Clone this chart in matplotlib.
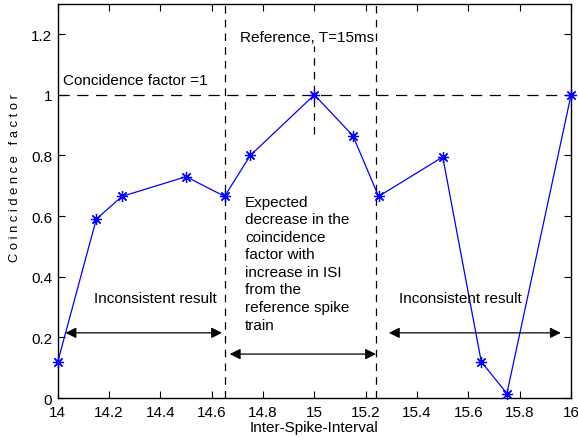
import numpy as np
import matplotlib.pyplot as plt

plt.rcParams['font.family'] = ['Liberation Sans', 'DejaVu Sans']

isi = [14.0, 14.15, 14.25, 14.5, 14.65, 14.75, 15.0, 15.15, 15.25, 15.5, 15.65, 15.75, 16.0]
coinc = [0.12, 0.59, 0.665, 0.73, 0.665, 0.80, 1.0, 0.865, 0.665, 0.795, 0.12, 0.015, 1.0]

x_ticks = [14, 14.2, 14.4, 14.6, 14.8, 15, 15.2, 15.4, 15.6, 15.8, 16]
x_labels = ['14', '14.2', '14.4', '14.6', '14.8', '15', '15.2', '15.4', '15.6', '15.8', '16']
y_ticks = [0, 0.2, 0.4, 0.6, 0.8, 1, 1.2]
y_labels = ['0', '0.2', '0.4', '0.6', '0.8', '1', '1.2']

fig = plt.figure(figsize=(5.78, 4.39), dpi=100)
ax = fig.add_axes([0.100, 0.091, 0.888, 0.898])

# matlab style '*' marker (8 arms)
ax.plot(isi, coinc, color='blue', lw=0.9, marker=(8, 2, 0), markersize=8,
        markeredgewidth=0.9, clip_on=False, zorder=3)

dash = (0, (6, 5))
ax.axhline(1, color='black', lw=0.9, linestyle=(0, (9, 6)))
ax.axvline(14.65, color='black', lw=0.9, linestyle=dash)
ax.axvline(15.24, color='black', lw=0.9, linestyle=dash)
ax.plot([15, 15], [0.87, 1.16], color='black', lw=0.9, linestyle=dash)

arrow = dict(arrowstyle='<|-|>', color='black', lw=0.9, mutation_scale=16, shrinkA=0, shrinkB=0)
ax.annotate('', xy=(14.03, 0.215), xytext=(14.64, 0.215), arrowprops=arrow)
ax.annotate('', xy=(14.67, 0.145), xytext=(15.24, 0.145), arrowprops=arrow)
ax.annotate('', xy=(15.29, 0.215), xytext=(15.96, 0.215), arrowprops=arrow)

fs = 11
ax.text(14.02, 1.025, 'Concidence factor =1', fontsize=fs, va='bottom')
ax.text(14.71, 1.19, 'Reference, T=15ms', fontsize=fs, va='center')
ax.text(14.14, 0.33, 'Inconsistent result', fontsize=fs, va='center')
ax.text(15.33, 0.33, 'Inconsistent result', fontsize=fs, va='center')
ax.text(14.73, 0.67, 'Expected\ndecrease in the\ncoincidence\nfactor with\nincrease in ISI\nfrom the\nreference spike\ntrain',
        fontsize=fs, va='top', linespacing=1.32)

ax.set_xlim(14, 16)
ax.set_ylim(0, 1.3)
ax.set_xticks(x_ticks)
ax.set_xticklabels(x_labels)
ax.set_yticks(y_ticks)
ax.set_yticklabels(y_labels)
ax.tick_params(direction='in', top=True, right=True, labelsize=fs, length=5)
ax.tick_params(axis='x', pad=5)
ax.tick_params(axis='y', pad=4)
ax.set_xlabel('Inter-Spike-Interval', fontsize=fs, labelpad=1)
ax.set_ylabel('C o i n c i d e n c e   f a c t o r', fontsize=9.3)
ax.yaxis.set_label_coords(-0.072, 0.56)
for s in ax.spines.values():
    s.set_linewidth(1.0)

fig.savefig('out.png', dpi=100)
